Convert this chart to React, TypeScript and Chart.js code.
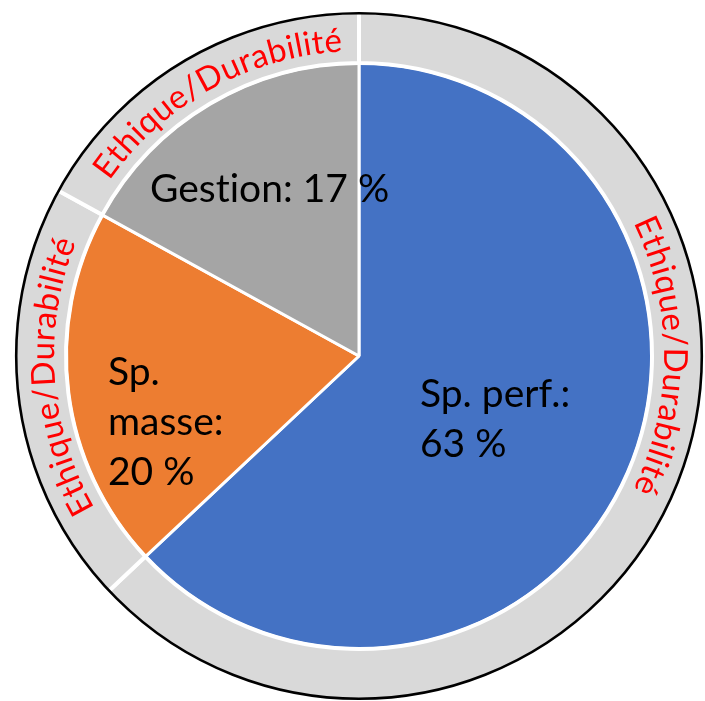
import React, { useEffect, useRef } from "react";
import { Chart, registerables } from "chart.js";

Chart.register(...registerables);

// ---- Data ----
const categories = ["Sp. perf.", "Sp.\nmasse", "Gestion"];
const values = [63, 20, 17];
const valueOnNewLine = [true, true, false];
const sliceColors = ["#4472C4", "#ED7D31", "#A5A5A5"];
const ringLabels = ["Ethique/Durabilité", "Ethique/Durabilité", "Ethique/Durabilité"];
const ringValues = [63, 20, 17];

const labelLines = categories.map((c, i) =>
  (c + ":" + (valueOnNewLine[i] ? "\n" : " ") + values[i] + " %").split("\n")
);

const overlayPlugin = {
  id: "overlay",
  afterDatasetsDraw(chart: any, _args: any, opts: any) {
    const ctx: any = chart.ctx;
    const ringMeta = chart.getDatasetMeta(0);
    const pieMeta = chart.getDatasetMeta(1);
    const a0: any = ringMeta.data[0];
    const cx = a0.x;
    const cy = a0.y;
    const Ro = a0.outerRadius;

    ctx.save();
    // outline circle
    ctx.beginPath();
    ctx.arc(cx, cy, Ro - 1.2, 0, Math.PI * 2);
    ctx.lineWidth = 2.6;
    ctx.strokeStyle = "#000000";
    ctx.stroke();

    // curved ring text
    ctx.font = `${opts.ringFontSize}px Lato, "Open Sans", sans-serif`;
    ctx.fillStyle = "#FF0000";
    ctx.textBaseline = "alphabetic";
    ctx.textAlign = "center";
    ringLabels.forEach((text, i) => {
      if (!ringMeta.data[i]) return;
      const chars = Array.from(text);
      const widths = chars.map((c) => ctx.measureText(c).width);
      const natural = widths.reduce((a, b) => a + b, 0);
      const total = opts.ringTextLength;
      const extra = chars.length > 1 ? (total - natural) / (chars.length - 1) : 0;
      const r = opts.ringTextRadius;
      const centerAng = ((opts.ringTextAngles[i] - 90) * Math.PI) / 180;
      let ang = centerAng - total / (2 * r);
      chars.forEach((c, k) => {
        const w = widths[k];
        const mid = ang + w / 2 / r;
        ctx.save();
        ctx.translate(cx + r * Math.cos(mid), cy + r * Math.sin(mid));
        ctx.rotate(mid + Math.PI / 2);
        ctx.fillText(c, 0, 0);
        ctx.restore();
        ang += (w + extra) / r;
      });
    });

    // slice labels
    ctx.font = `${opts.labelFontSize}px Lato, "Open Sans", sans-serif`;
    try { ctx.textRendering = "optimizeSpeed"; } catch (e) {}
    ctx.fillStyle = "#000000";
    ctx.textAlign = "left";
    ctx.textBaseline = "alphabetic";
    pieMeta.data.forEach((arc: any, i: number) => {
      const off = opts.labelOffsets[i];
      const x = arc.x + off[0];
      const y = arc.y + off[1];
      labelLines[i].forEach((line, k) => {
        ctx.fillText(line, x, y + k * opts.lineHeight);
      });
    });
    ctx.restore();
  },
};

export default function App() {
  const canvasRef = useRef<HTMLCanvasElement | null>(null);

  useEffect(() => {
    if (!canvasRef.current) return;
    const chart = new Chart(canvasRef.current, {
      type: "pie",
      data: {
        labels: categories.map((c) => c.replace("\n", " ")),
        datasets: [
          {
            label: "Ethique/Durabilité",
            data: ringValues,
            backgroundColor: "#D9D9D9",
            borderColor: "#FFFFFF",
            borderWidth: 4,
            weight: 51,
            hoverOffset: 0,
            radius: 344,
          } as any,
          {
            label: "Répartition",
            data: values,
            backgroundColor: sliceColors,
            borderColor: "#FFFFFF",
            borderWidth: 3,
            weight: 293,
            hoverOffset: 0,
            radius: 344,
          } as any,
        ],
      },
      options: {
        responsive: true,
        maintainAspectRatio: false,
        animation: false,
        events: [],
        radius: 344,
        layout: { padding: { left: 13, right: 0, top: 11, bottom: 0 } },
        plugins: {
          legend: { display: false },
          tooltip: { enabled: false },
          overlay: {
            ringFontSize: 33,
            ringTextRadius: 305,
            ringTextLength: 276,
            ringTextAngles: [90, 266, 331],
            labelFontSize: 39,
            lineHeight: 50,
            labelOffsets: [
              [61, 51],
              [-251, 29],
              [-209, -154],
            ],
          },
        },
      } as any,
      plugins: [overlayPlugin],
    });
    return () => chart.destroy();
  }, []);

  return (
    <div style={{ position: "absolute", left: 0, top: 0, width: 705, height: 701, background: "#FFFFFF" }}>
      <canvas ref={canvasRef} />
    </div>
  );
}
